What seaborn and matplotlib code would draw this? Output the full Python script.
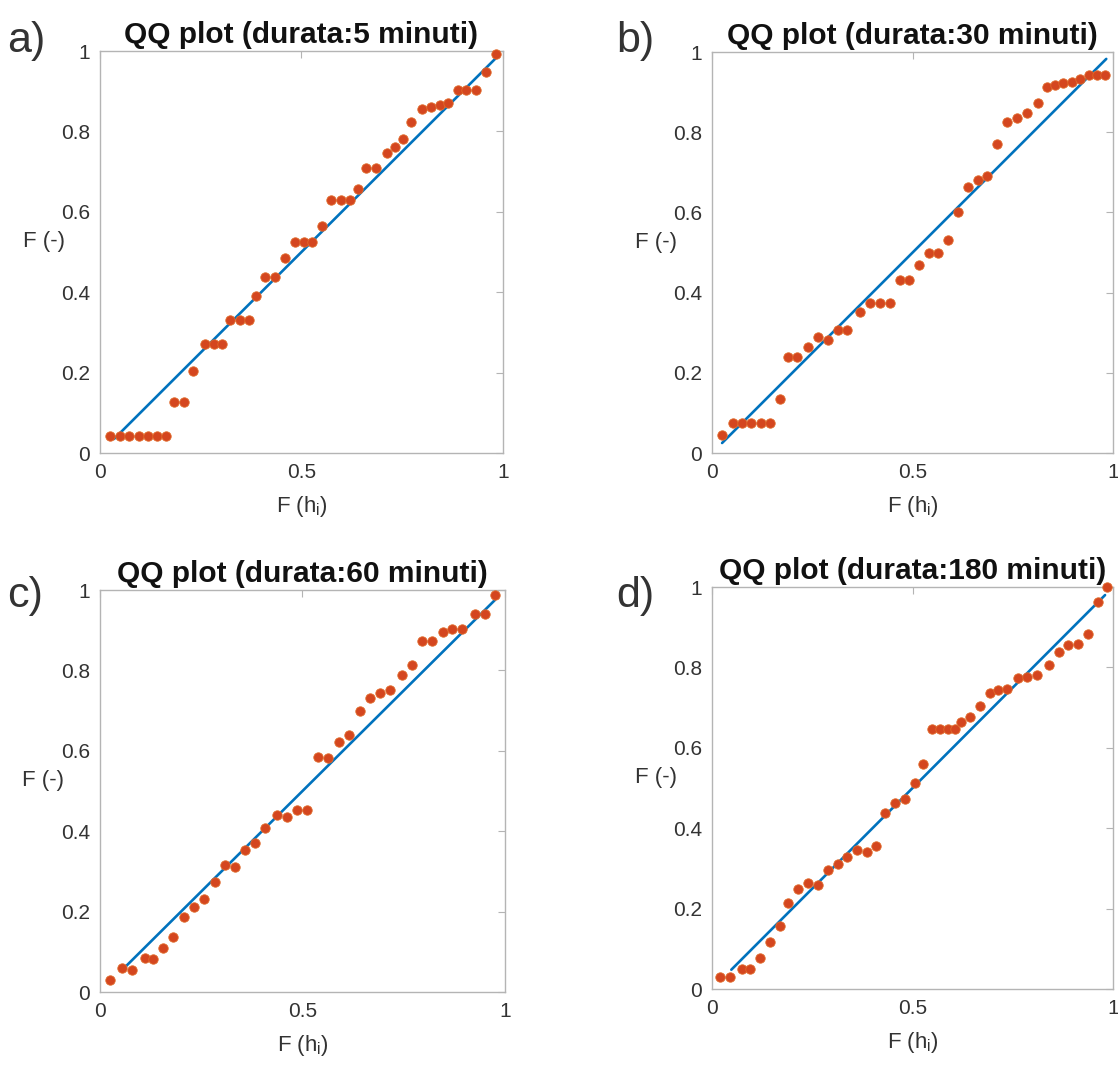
import matplotlib
matplotlib.use("Agg")
import matplotlib.pyplot as plt
import seaborn as sns
import pandas as pd

# durata 5 minuti
x_5 = [0.026, 0.050, 0.073, 0.096, 0.119, 0.142, 0.164, 0.183, 0.209, 0.231,
       0.260, 0.283, 0.304, 0.322, 0.347, 0.370, 0.388, 0.409, 0.434, 0.459,
       0.483, 0.506, 0.527, 0.550, 0.574, 0.597, 0.620, 0.640, 0.661, 0.684,
       0.711, 0.731, 0.752, 0.773, 0.800, 0.822, 0.843, 0.864, 0.888, 0.909,
       0.932, 0.959, 0.982]
y_5 = [0.043, 0.043, 0.043, 0.043, 0.043, 0.043, 0.043, 0.128, 0.128, 0.203,
       0.272, 0.272, 0.272, 0.331, 0.331, 0.331, 0.391, 0.439, 0.439, 0.484,
       0.526, 0.526, 0.526, 0.565, 0.629, 0.629, 0.629, 0.658, 0.708, 0.708,
       0.747, 0.762, 0.780, 0.824, 0.855, 0.862, 0.866, 0.870, 0.902, 0.902,
       0.902, 0.948, 0.993]

# durata 30 minuti
x_30 = [0.024, 0.052, 0.075, 0.098, 0.121, 0.144, 0.170, 0.190, 0.211, 0.240,
        0.265, 0.290, 0.313, 0.336, 0.369, 0.394, 0.419, 0.444, 0.469, 0.490,
        0.515, 0.540, 0.564, 0.589, 0.614, 0.639, 0.662, 0.686, 0.710, 0.735,
        0.760, 0.785, 0.814, 0.835, 0.855, 0.876, 0.897, 0.918, 0.939, 0.960,
        0.980]
y_30 = [0.045, 0.076, 0.076, 0.076, 0.076, 0.076, 0.134, 0.240, 0.240, 0.265,
        0.289, 0.282, 0.308, 0.308, 0.352, 0.375, 0.375, 0.375, 0.431, 0.431,
        0.469, 0.500, 0.500, 0.531, 0.602, 0.664, 0.680, 0.690, 0.772, 0.826,
        0.835, 0.847, 0.872, 0.913, 0.918, 0.922, 0.926, 0.934, 0.943, 0.943,
        0.943]

# durata 60 minuti
x_60 = [0.025, 0.054, 0.078, 0.111, 0.132, 0.156, 0.181, 0.208, 0.233, 0.258,
        0.284, 0.309, 0.333, 0.358, 0.383, 0.407, 0.436, 0.461, 0.486, 0.510,
        0.539, 0.564, 0.589, 0.616, 0.642, 0.667, 0.691, 0.716, 0.745, 0.770,
        0.794, 0.819, 0.848, 0.868, 0.893, 0.926, 0.951, 0.975]
y_60 = [0.030, 0.059, 0.056, 0.084, 0.081, 0.109, 0.138, 0.187, 0.212, 0.231,
        0.274, 0.316, 0.310, 0.353, 0.370, 0.407, 0.440, 0.436, 0.453, 0.454,
        0.585, 0.583, 0.623, 0.639, 0.699, 0.731, 0.745, 0.751, 0.789, 0.813,
        0.873, 0.873, 0.896, 0.902, 0.902, 0.940, 0.940, 0.988]

# durata 180 minuti
x_180 = [0.020, 0.045, 0.074, 0.095, 0.120, 0.145, 0.170, 0.190, 0.215, 0.240,
         0.265, 0.290, 0.315, 0.336, 0.361, 0.386, 0.408, 0.431, 0.456, 0.481,
         0.505, 0.527, 0.548, 0.569, 0.589, 0.606, 0.622, 0.643, 0.668, 0.693,
         0.714, 0.735, 0.764, 0.785, 0.810, 0.839, 0.864, 0.888, 0.913, 0.938,
         0.963, 0.984]
y_180 = [0.031, 0.029, 0.051, 0.051, 0.076, 0.118, 0.157, 0.213, 0.248, 0.263,
         0.259, 0.296, 0.311, 0.328, 0.346, 0.342, 0.356, 0.439, 0.462, 0.472,
         0.513, 0.561, 0.648, 0.648, 0.648, 0.648, 0.665, 0.677, 0.704, 0.736,
         0.744, 0.746, 0.773, 0.777, 0.781, 0.806, 0.839, 0.856, 0.858, 0.883,
         0.963, 1.000]

# extremes of the reference line y = x
line_5 = [0.035, 0.990]
line_30 = [0.025, 0.983]
line_60 = [0.060, 0.975]
line_180 = [0.048, 0.980]

durate = ["5", "30", "60", "180"]
letters = ["a)", "b)", "c)", "d)"]
xs = [x_5, x_30, x_60, x_180]
ys = [y_5, y_30, y_60, y_180]
lines = [line_5, line_30, line_60, line_180]

sns.set_style("white")
plt.rcParams['font.family'] = ['Liberation Sans', 'DejaVu Sans']
plt.rcParams['mathtext.default'] = 'regular'

fig = plt.figure(figsize=(11.18, 10.72), dpi=100)

# axes boxes (left, bottom, width, height) in figure fraction
boxes = [[0.0894, 0.5774, 0.3605, 0.375],
         [0.6369, 0.5774, 0.3587, 0.374],
         [0.0894, 0.0746, 0.3623, 0.375],
         [0.6369, 0.0774, 0.3587, 0.375]]
letter_pos = [(0.006, 0.962), (0.551, 0.962), (0.006, 0.444), (0.551, 0.444)]

txt = '#333333'
frame = '#b4b4b4'

for k in range(4):
    ax = fig.add_axes(boxes[k])
    df = pd.DataFrame({"F_h": xs[k], "F": ys[k]})
    ln = pd.DataFrame({"F_h": lines[k], "F": lines[k]})

    sns.lineplot(data=ln, x="F_h", y="F", ax=ax, color='#0072BD', linewidth=1.9)
    sns.scatterplot(data=df, x="F_h", y="F", ax=ax, color='#D4461F', s=46,
                    edgecolor='#E06A2A', linewidth=0.6, clip_on=False, zorder=3)

    ax.set_xlim(0, 1)
    ax.set_ylim(0, 1)
    ax.set_xticks([0, 0.5, 1])
    ax.set_xticklabels(["0", "0.5", "1"])
    ax.set_yticks([0, 0.2, 0.4, 0.6, 0.8, 1])
    ax.set_yticklabels(["0", "0.2", "0.4", "0.6", "0.8", "1"])
    ax.tick_params(direction='in', length=5, width=0.8, color=frame,
                   labelsize=15, labelcolor=txt, top=True, right=True, pad=7)
    for sp in ax.spines.values():
        sp.set_color(frame)
        sp.set_linewidth(1.0)

    ax.set_title("QQ plot (durata:%s minuti)" % durate[k], fontsize=21.5,
                 fontweight='bold', color='#111111', pad=6)
    ax.set_xlabel("F (h$_i$)", fontsize=16, color=txt, labelpad=9)
    ax.set_ylabel("")
    ax.text(-0.14, 0.525, "F (-)", transform=ax.transAxes, ha='center', va='center',
            fontsize=16, color=txt)

    fig.text(letter_pos[k][0], letter_pos[k][1], letters[k], fontsize=31,
             color=txt, ha='left', va='center')

fig.set_facecolor('w')
fig.savefig("out.png", dpi=100, facecolor='w')
